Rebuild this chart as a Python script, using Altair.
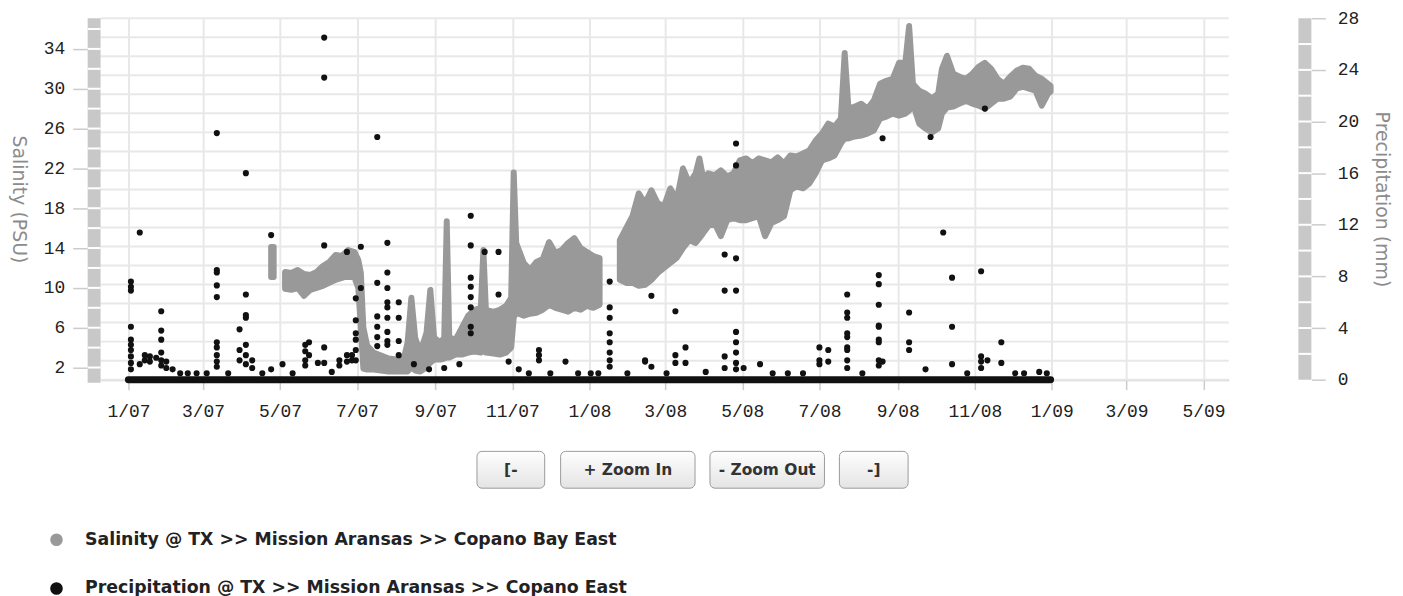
import altair as alt
import pandas as pd

SAL_NAME = "Salinity @ TX >> Mission Aransas >> Copano Bay East"
PRECIP_NAME = "Precipitation @ TX >> Mission Aransas >> Copano East"

# ---------------- salinity (PSU): daily low / high envelope, per record segment
SAL_A_DATE = ["2007-04-24", "2007-04-26"]
SAL_A_LOW = [11.1, 11.1]
SAL_A_HIGH = [14.1, 14.1]

SAL_B_DATE = [
    "2007-05-05", "2007-05-10", "2007-05-15", "2007-05-20", "2007-05-25", "2007-05-30",
    "2007-06-04", "2007-06-09", "2007-06-14", "2007-06-19", "2007-06-24", "2007-06-29",
    "2007-07-02", "2007-07-04", "2007-07-06", "2007-07-09", "2007-07-14", "2007-07-20",
    "2007-07-26", "2007-08-01", "2007-08-07", "2007-08-10", "2007-08-13", "2007-08-16",
    "2007-08-20", "2007-08-25", "2007-08-28", "2007-08-31", "2007-09-05", "2007-09-08",
    "2007-09-10", "2007-09-12", "2007-09-17", "2007-09-22", "2007-09-27", "2007-10-02",
    "2007-10-07", "2007-10-09", "2007-10-11", "2007-10-17", "2007-10-22", "2007-10-27",
    "2007-10-31", "2007-11-02", "2007-11-04", "2007-11-10", "2007-11-15", "2007-11-20",
    "2007-11-25", "2007-11-30", "2007-12-05", "2007-12-10", "2007-12-15", "2007-12-20",
    "2007-12-25", "2007-12-30", "2008-01-04", "2008-01-09",
]
SAL_B_LOW = [
    9.9, 9.8, 10.0, 9.2, 9.8, 10.0,
    10.2, 10.5, 10.8, 11.0, 11.2, 11.0,
    10.0, 6.0, 1.9, 1.8, 1.8, 1.7,
    1.6, 1.6, 1.6, 1.6, 2.0, 1.7,
    1.6, 2.0, 2.5, 2.8, 2.8, 2.9,
    3.0, 3.0, 3.3, 3.3, 3.5, 3.6,
    3.5, 3.7, 3.5, 3.4, 3.3, 3.5,
    4.0, 7.0, 7.5, 7.2, 7.4, 7.5,
    7.8, 8.3, 8.0, 7.8, 7.6, 8.0,
    7.8, 8.2, 8.0, 8.3,
]
SAL_B_HIGH = [
    11.6, 11.5, 11.8, 11.4, 11.3, 11.6,
    12.2, 12.6, 13.3, 13.2, 13.8, 13.6,
    12.8, 11.5, 6.0, 4.2, 3.5, 3.2,
    2.9, 2.8, 2.9, 4.5, 9.0, 5.0,
    3.5, 5.5, 9.8, 5.0, 4.5, 5.0,
    16.7, 5.0, 4.8, 6.0, 7.2, 7.8,
    8.0, 13.8, 7.8, 7.6, 7.8, 8.2,
    9.0, 21.6, 14.5, 12.5, 11.8, 12.6,
    12.9, 14.6, 13.5, 13.8, 14.5, 15.0,
    14.0, 13.6, 13.2, 13.0,
]

SAL_C_DATE = [
    "2008-01-25", "2008-01-30", "2008-02-04", "2008-02-09", "2008-02-14", "2008-02-19",
    "2008-02-24", "2008-02-29", "2008-03-05", "2008-03-10", "2008-03-15", "2008-03-20",
    "2008-03-25", "2008-03-28", "2008-03-31", "2008-04-04", "2008-04-09", "2008-04-14",
    "2008-04-19", "2008-04-24", "2008-04-29", "2008-05-04", "2008-05-09", "2008-05-14",
    "2008-05-19", "2008-05-24", "2008-05-29", "2008-06-03", "2008-06-08", "2008-06-13",
    "2008-06-18", "2008-06-23", "2008-06-28", "2008-07-03", "2008-07-08", "2008-07-13",
    "2008-07-18", "2008-07-21", "2008-07-24", "2008-07-29", "2008-08-03", "2008-08-08",
    "2008-08-13", "2008-08-18", "2008-08-23", "2008-08-28", "2008-09-02", "2008-09-07",
    "2008-09-10", "2008-09-13", "2008-09-18", "2008-09-23", "2008-09-28", "2008-10-03",
    "2008-10-06", "2008-10-10", "2008-10-15", "2008-10-20", "2008-10-25", "2008-10-30",
    "2008-11-04", "2008-11-09", "2008-11-14", "2008-11-19", "2008-11-24", "2008-11-29",
    "2008-12-04", "2008-12-09", "2008-12-14", "2008-12-19", "2008-12-24", "2008-12-29",
    "2008-12-31",
]
SAL_C_LOW = [
    10.8, 10.5, 10.5, 10.2, 10.3, 10.8,
    11.5, 12.0, 12.5, 13.0, 14.0, 14.8,
    14.5, 15.0, 15.5, 16.2, 16.5, 15.2,
    16.8, 17.0, 16.8, 16.8, 17.0, 17.2,
    15.2, 16.5, 16.8, 17.2, 19.8, 20.2,
    20.0, 20.5, 21.5, 22.8, 23.0, 23.3,
    24.5, 25.0, 25.0, 25.2, 25.3, 25.5,
    25.8, 27.0, 27.2, 27.5, 27.3, 27.5,
    27.8, 28.5, 26.5, 26.0, 25.6, 26.0,
    27.5, 28.1, 28.2, 28.5, 28.8, 28.5,
    28.3, 28.0, 28.5, 29.0, 29.0, 29.2,
    30.0, 30.2, 30.0, 29.8, 28.3, 29.5,
    29.7,
]
SAL_C_HIGH = [
    14.8, 16.0, 17.2, 19.5, 18.5, 19.8,
    18.5, 18.2, 20.0, 18.8, 22.0, 20.5,
    21.5, 23.0, 21.0, 21.5, 21.3, 21.8,
    21.2, 21.5, 22.8, 23.0, 22.5, 23.0,
    22.8, 22.6, 23.1, 22.5, 23.3, 23.2,
    23.5, 23.8, 24.8, 25.5, 26.5, 26.2,
    27.0, 33.6, 28.0, 28.2, 28.5, 28.0,
    28.8, 30.5, 30.8, 31.0, 32.6, 32.6,
    36.3, 30.5, 29.8, 29.5, 29.0, 29.5,
    32.0, 33.3, 31.5, 31.2, 31.0, 31.5,
    32.2, 32.6, 32.0, 31.0, 30.5, 31.2,
    31.8, 32.1, 32.0, 31.3, 31.0, 30.5,
    30.3,
]

# ---------------- precipitation (mm): readings above zero, grouped by day
PRECIP_DAY = [
    "2007-01-03", "2007-01-10", "2007-01-14", "2007-01-18", "2007-01-23", "2007-01-27",
    "2007-01-31", "2007-02-05", "2007-02-11", "2007-02-17", "2007-02-24", "2007-03-04",
    "2007-03-12", "2007-03-21", "2007-03-30", "2007-04-04", "2007-04-09", "2007-04-17",
    "2007-04-24", "2007-05-03", "2007-05-11", "2007-05-21", "2007-05-24", "2007-05-31",
    "2007-06-05", "2007-06-11", "2007-06-17", "2007-06-23", "2007-06-27", "2007-06-30",
    "2007-07-04", "2007-07-17", "2007-07-25", "2007-08-03", "2007-08-15", "2007-08-27",
    "2007-09-08", "2007-09-20", "2007-09-29", "2007-10-10", "2007-10-21", "2007-10-29",
    "2007-11-06", "2007-11-14", "2007-11-22", "2007-12-01", "2007-12-13", "2007-12-23",
    "2008-01-02", "2008-01-08", "2008-01-17", "2008-01-31", "2008-02-14", "2008-02-19",
    "2008-03-02", "2008-03-09", "2008-03-17", "2008-04-02", "2008-04-17", "2008-04-26",
    "2008-05-02", "2008-05-15", "2008-05-25", "2008-06-06", "2008-06-18", "2008-07-01",
    "2008-07-08", "2008-07-23", "2008-08-04", "2008-08-17", "2008-08-20", "2008-09-10",
    "2008-09-23", "2008-09-27", "2008-10-07", "2008-10-14", "2008-10-26", "2008-11-06",
    "2008-11-09", "2008-11-11", "2008-11-22", "2008-12-03", "2008-12-10", "2008-12-22",
    "2008-12-28",
]
PRECIP_MM = [
    [7.6, 7.2, 6.9, 4.1, 3.1, 2.7, 2.3, 1.8, 1.3, 0.8], [11.4, 1.2], [1.9, 1.5], [1.8, 1.4],
    [1.7], [5.3, 3.8, 3.1, 2.1, 1.5, 1.1],
    [1.4, 0.9], [0.8], [0.5], [0.5], [0.5], [0.5],
    [19.1, 8.5, 8.3, 7.3, 6.4, 2.9, 2.5, 1.9, 1.4, 1.0], [0.5], [3.9, 2.3, 1.5],
    [16.0, 6.6, 5.0, 4.8, 2.7, 1.9, 1.2], [1.5, 0.9], [0.5],
    [11.2, 0.8], [1.2], [0.5], [2.7, 2.2, 1.5, 1.1], [2.9, 1.9], [1.3],
    [26.5, 23.4, 10.4, 2.5, 1.3], [0.6], [1.5, 1.1], [9.9, 1.9, 1.4], [1.9, 1.5],
    [6.3, 4.6, 3.6, 3.1, 2.3, 1.5],
    [10.3, 7.1], [18.8, 7.5, 4.9, 4.1, 3.3, 2.6], [10.6, 8.3, 7.1, 6.0, 5.6, 4.8, 3.7, 3.0, 2.7],
    [6.0, 4.8, 3.0, 1.9], [1.2], [0.8],
    [0.9], [1.2], [12.7, 10.4, 7.9, 7.2, 6.4, 5.6, 4.1, 3.6], [9.9], [9.9, 6.6], [1.4],
    [0.8], [0.5], [2.3, 1.9, 1.5], [0.5], [1.4], [0.5],
    [0.5], [0.5], [7.6, 5.6, 4.8, 3.6, 2.9, 2.1, 1.5, 1.0], [0.5], [1.4, 1.5], [6.5, 1.0],
    [0.5], [5.3, 1.9, 1.3], [2.5, 1.3], [0.6], [9.7, 6.9, 1.8, 0.9],
    [18.3, 16.6, 9.4, 6.9, 3.7, 2.9, 2.1, 1.3, 0.8],
    [0.9], [1.2], [0.5], [0.5], [0.5], [2.5, 1.5, 1.2],
    [2.3, 1.4], [6.6, 5.2, 4.8, 3.6, 3.3, 2.5, 2.3, 1.5, 0.9], [0.5],
    [8.1, 7.4, 5.8, 4.2, 4.1, 3.1, 2.9, 1.5, 1.1], [18.7, 1.4], [5.2, 2.9, 2.3],
    [0.8], [18.8], [11.4], [7.9, 4.1, 1.2], [0.5], [8.4, 1.8, 1.4, 0.9],
    [21.0], [1.5], [2.9, 1.3], [0.5], [0.5], [0.6],
    [0.5],
]
# span of the daily record, with zero readings on the remaining days
PRECIP_RECORD_START = "2007-01-01"
PRECIP_RECORD_END = "2008-12-31"

SAL_TICKS = [2, 6, 10, 14, 18, 22, 26, 30, 34]
PRECIP_TICKS = [0, 4, 8, 12, 16, 20, 24, 28]
MONTH_TICKS = [(2007, m) for m in (1, 3, 5, 7, 9, 11)] + \
              [(2008, m) for m in (1, 3, 5, 7, 9, 11)] + [(2009, 1), (2009, 3), (2009, 5)]

BUTTONS = ["[-", "+ Zoom In", "- Zoom Out", "-]"]

# ---------------- tables
sal_rows = []
for seg, (d, lo, hi) in enumerate([(SAL_A_DATE, SAL_A_LOW, SAL_A_HIGH),
                                    (SAL_B_DATE, SAL_B_LOW, SAL_B_HIGH),
                                    (SAL_C_DATE, SAL_C_LOW, SAL_C_HIGH)]):
    for a, b, c in zip(d, lo, hi):
        sal_rows.append({"date": a, "lo": b, "hi": c, "seg": seg, "series": SAL_NAME})
sal_df = pd.DataFrame(sal_rows)

pr_rows = []
for d, vals in zip(PRECIP_DAY, PRECIP_MM):
    for v in vals:
        pr_rows.append({"date": d, "mm": v, "series": PRECIP_NAME})
pr_df = pd.DataFrame(pr_rows)
base_df = pd.DataFrame({"start": [PRECIP_RECORD_START], "end": [PRECIP_RECORD_END], "mm": [0.0]})

# ---------------- layout
W, H = 1133, 363
MONO = "Liberation Mono"
SANS = "DejaVu Sans"

x_scale = alt.Scale(type="utc", nice=False, domain=[
    alt.DateTime(year=2006, month=12, date=10, utc=True),
    alt.DateTime(year=2009, month=5, date=21, utc=True)])
x_axis = alt.Axis(values=[alt.DateTime(year=y, month=m, date=1, utc=True) for y, m in MONTH_TICKS],
                  format="%-m/%y", title=None, grid=True, gridColor="#e8e8e8", gridWidth=2,
                  domain=True, domainColor="#cccccc", domainWidth=2,
                  ticks=True, tickColor="#cccccc", tickSize=10, tickWidth=1.5,
                  labelFont=MONO, labelFontSize=18, labelColor="#222222", labelPadding=13,
                  labelFlush=False)
left_scale = alt.Scale(domain=[0.78, 37.08], nice=False, zero=False)
right_scale = alt.Scale(domain=[0, 28], nice=False, zero=False)

left_axis = alt.Axis(orient="left", values=SAL_TICKS, grid=False, domain=False, offset=13,
                     ticks=True, tickColor="#cccccc", tickSize=15, tickWidth=1.5,
                     labelFont=MONO, labelFontSize=18, labelColor="#222222", labelPadding=8,
                     title="Salinity (PSU)", titleAngle=90, titleBaseline="top",
                     titleFont=SANS, titleFontSize=19, titleFontWeight="normal",
                     titleColor="#8c8c8c", titlePadding=16)
right_axis = alt.Axis(orient="right", values=PRECIP_TICKS, grid=False, domain=False, offset=83,
                      ticks=True, tickColor="#cccccc", tickSize=14, tickWidth=1.5,
                      labelFont=MONO, labelFontSize=18, labelColor="#222222", labelPadding=12,
                      title="Precipitation (mm)", titleAngle=90, titleBaseline="bottom",
                      titleFont=SANS, titleFontSize=19, titleFontWeight="normal",
                      titleColor="#8c8c8c", titlePadding=13)

color_scale = alt.Scale(domain=[SAL_NAME, PRECIP_NAME], range=["#999999", "#111111"])
legend = alt.Legend(orient="none", legendX=-53, legendY=515, direction="vertical", title=None,
                    symbolType="circle", symbolSize=160, symbolStrokeWidth=0, symbolOpacity=1,
                    labelFont=SANS, labelFontSize=17.4, labelFontWeight="bold", labelColor="#222222",
                    labelOffset=20, rowPadding=30, labelLimit=0, padding=0)

one = pd.DataFrame({"k": [0]})

grid = alt.Chart(pd.DataFrame({"g": list(range(20))})).mark_rule(
    color="#e8e8e8", strokeWidth=2).encode(
    y=alt.Y("g:Q", scale=alt.Scale(domain=[0, 19], nice=False), axis=None),
    x=alt.value(0), x2=alt.value(W))

left_bar = alt.Chart(one).mark_rect(color="#c8c8c8").encode(
    x=alt.value(-13), x2=alt.value(0), y=alt.value(0), y2=alt.value(H + 3))
left_sep = alt.Chart(pd.DataFrame({"v": list(range(2, 38, 2))})).mark_rule(
    color="white", strokeWidth=2).encode(
    y=alt.Y("v:Q", scale=left_scale, axis=None), x=alt.value(-13), x2=alt.value(0))
right_bar = alt.Chart(one).mark_rect(color="#c8c8c8").encode(
    x=alt.value(W + 70), x2=alt.value(W + 83), y=alt.value(0), y2=alt.value(H))
right_sep = alt.Chart(pd.DataFrame({"v": list(range(2, 28, 2))})).mark_rule(
    color="white", strokeWidth=2).encode(
    y=alt.Y("v:Q", scale=right_scale, axis=None), x=alt.value(W + 70), x2=alt.value(W + 83))

salinity = alt.Chart(sal_df).mark_area(
    color="#999999", stroke="#999999", strokeWidth=6, strokeJoin="round", opacity=1).encode(
    x=alt.X("date:T", scale=x_scale, axis=x_axis),
    y=alt.Y("lo:Q", scale=left_scale, axis=left_axis),
    y2="hi:Q",
    detail="seg:N")

base = alt.Chart(base_df).mark_rule(color="#111111", strokeWidth=7, strokeCap="round").encode(
    x=alt.X("start:T", scale=x_scale, axis=x_axis),
    x2="end:T",
    y=alt.Y("mm:Q", scale=right_scale, axis=None))

precip = alt.Chart(pr_df).mark_circle(size=38, opacity=1).encode(
    x=alt.X("date:T", scale=x_scale, axis=x_axis),
    y=alt.Y("mm:Q", scale=right_scale, axis=right_axis),
    color=alt.Color("series:N", scale=color_scale, legend=legend))

grad = alt.Gradient(gradient="linear", x1=0, x2=0, y1=0, y2=1,
                    stops=[alt.GradientStop(color="#fefefe", offset=0),
                           alt.GradientStop(color="#e4e4e4", offset=1)])
BTN_X = [(378, 446), (462, 597), (612, 727), (742, 811)]
BTN_Y = (435, 472)
buttons = []
for label, (x0, x1) in zip(BUTTONS, BTN_X):
    dfb = pd.DataFrame({"label": [label]})
    buttons.append(alt.Chart(dfb).mark_rect(fill=grad, stroke="#9a9a9a", strokeWidth=1,
                                            cornerRadius=5).encode(
        x=alt.value(x0), x2=alt.value(x1), y=alt.value(BTN_Y[0]), y2=alt.value(BTN_Y[1])))
    buttons.append(alt.Chart(dfb).mark_text(font=SANS, fontSize=15.5, fontWeight="bold",
                                            color="#333333", baseline="middle", align="center").encode(
        x=alt.value((x0 + x1) / 2), y=alt.value((BTN_Y[0] + BTN_Y[1]) / 2), text="label:N"))

chart = alt.layer(grid, left_bar, left_sep, right_bar, right_sep, salinity, base, precip,
                  *buttons).resolve_scale(y="independent").properties(
    width=W, height=H, padding={"left": 0, "top": 0, "right": 4, "bottom": 0},
    background="white").configure_view(stroke=None)

chart.save("out.html", embed_options={"renderer": "svg", "actions": False})
